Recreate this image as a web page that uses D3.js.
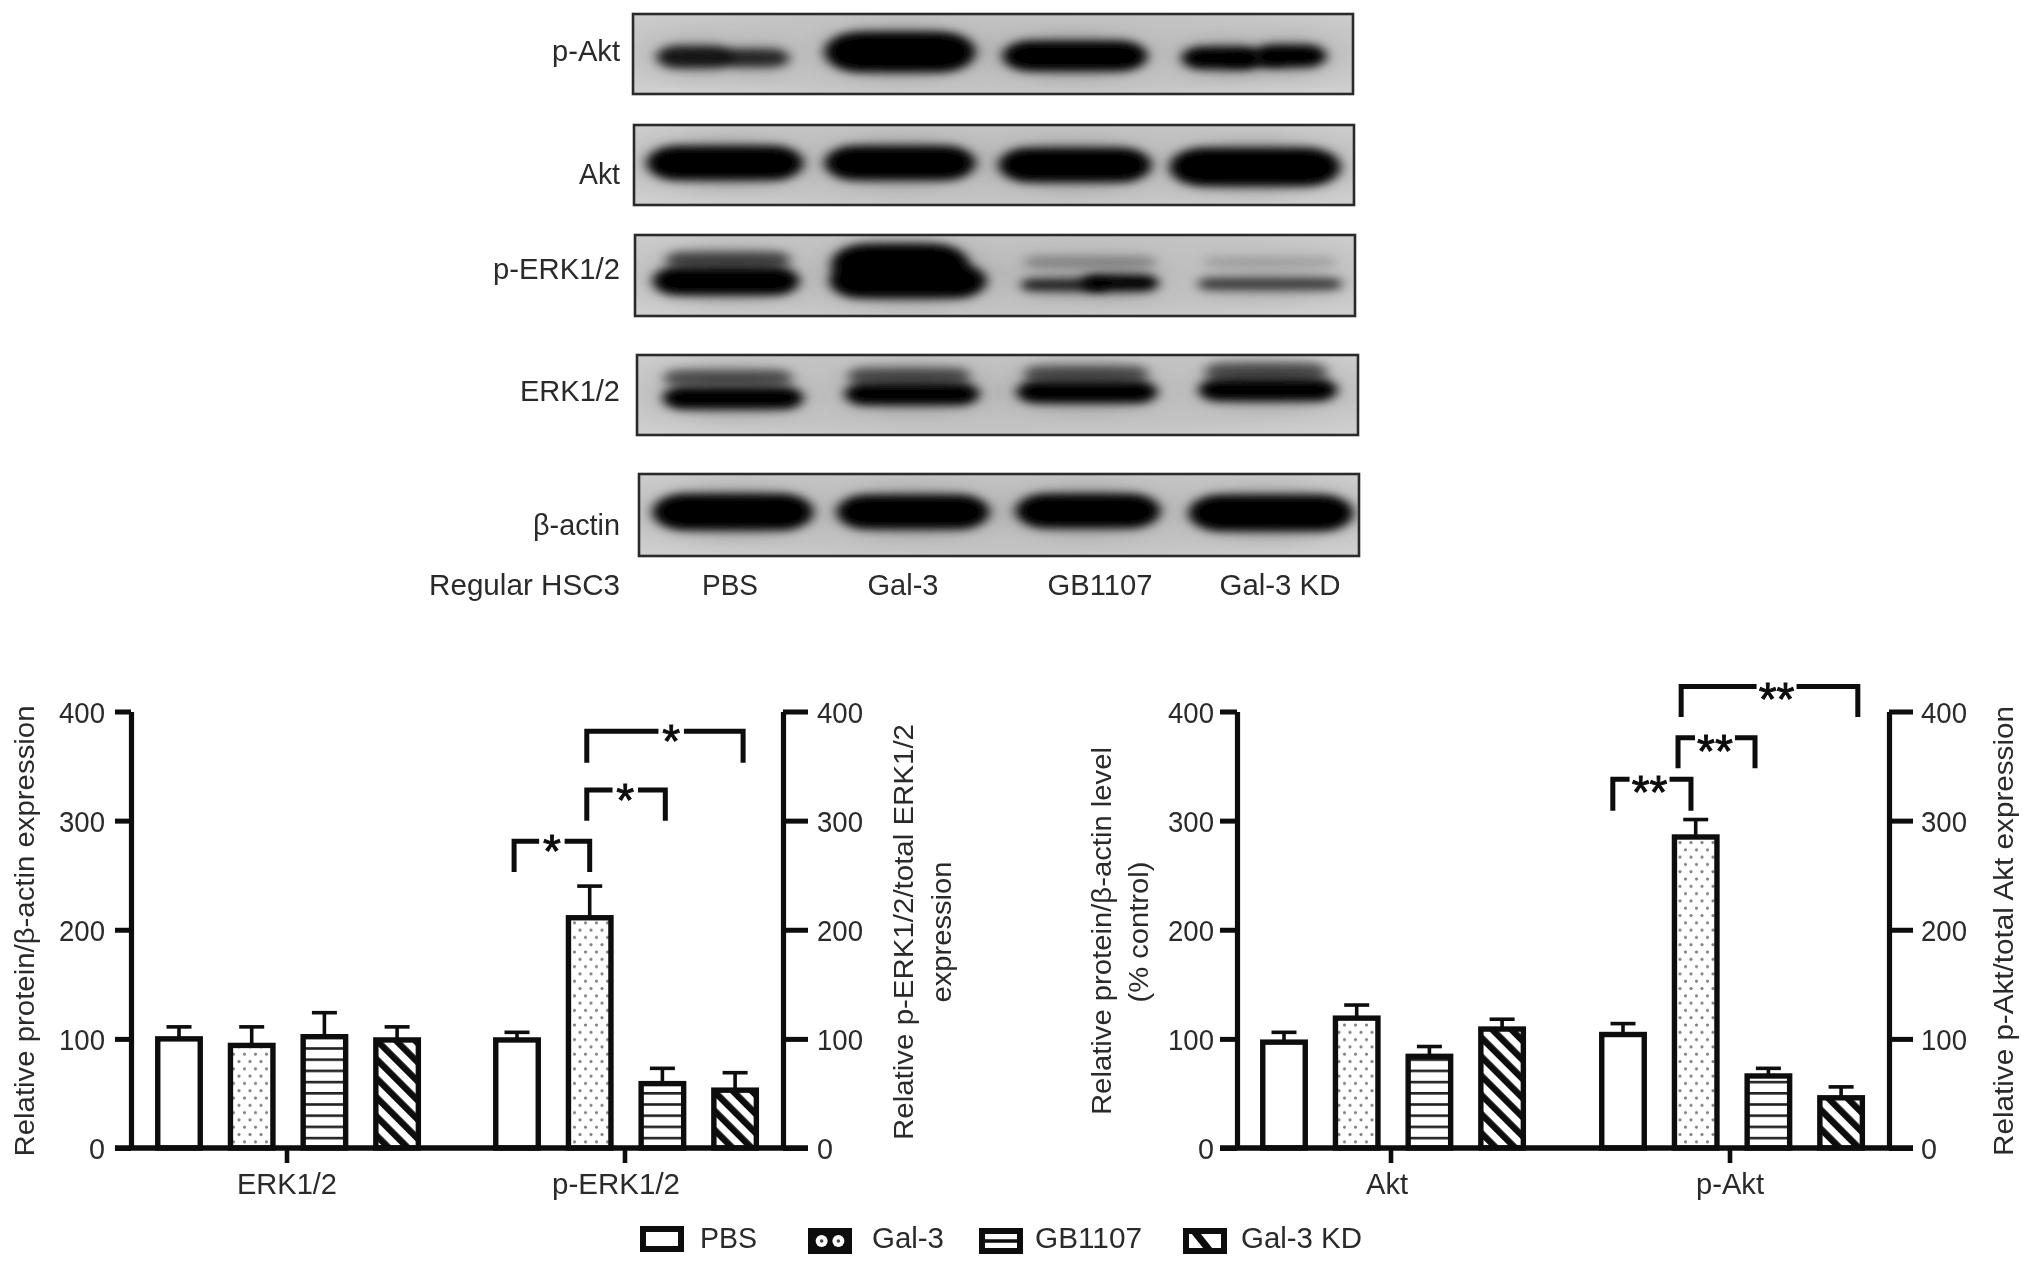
<!DOCTYPE html>
<html><head><meta charset="utf-8">
<script src="https://cdn.jsdelivr.net/npm/d3@7/dist/d3.min.js"></script>
<style>html,body{margin:0;padding:0;background:#fff}svg{display:block}text{font-family:"Liberation Sans",Arial,sans-serif;fill:#2a2a2a}</style>
</head><body><div id="c"></div>
<script>
const W=2032,H=1267;
const treatments=["PBS","Gal-3","GB1107","Gal-3 KD"];
const yTicks=[0,100,200,300,400];
// left chart
const erkCats=["ERK1/2","p-ERK1/2"];
const erkValues=[[100,94,102,99],[99,211,59,53]];
const erkTops=[[111,111,124,111],[106,240,73,69]];
// right chart
const aktCats=["Akt","p-Akt"];
const aktValues=[[97,119,84,109],[104,285,66,46]];
const aktTops=[[106,131,93,118],[114,301,73,56]];
// significance brackets: [from position, to position, top value, foot value, label, label fraction]
const erkBrackets=[[-0.04,1,281,253,"*",.5],[.96,2.04,328,300,"*",.49],[.96,3.11,382,353,"*",.54]];
const aktBrackets=[[-0.14,.935,338,309,"**",.47],[.757,1.816,376,348,"**",.48],[.8,3.23,423,395,"**",.54]];
// blot rows
const blotRows=["p-Akt","Akt","p-ERK1/2","ERK1/2","β-actin"];
const blotLabelLen=[68,41,127,100,87];
const laneLen=[56,71,105,121];

const svg=d3.select("#c").append("svg").attr("width",W).attr("height",H).attr("viewBox",`0 0 ${W} ${H}`);
const defs=svg.append("defs");
const ink="#0a0a0a";
defs.append("filter").attr("id","page").attr("filterUnits","userSpaceOnUse").attr("x",0).attr("y",0).attr("width",W).attr("height",H)
  .append("feGaussianBlur").attr("stdDeviation",0.6);
const root=svg.append("g").attr("filter","url(#page)");
root.append("rect").attr("width",W).attr("height",H).attr("fill","#fff");

// patterns
const pDots=defs.append("pattern").attr("id","p1").attr("patternUnits","userSpaceOnUse").attr("width",11).attr("height",14.6);
pDots.append("rect").attr("width",11).attr("height",14.6).attr("fill","#fff");
pDots.append("circle").attr("cx",2.5).attr("cy",3).attr("r",1.6).attr("fill","#808080");
pDots.append("circle").attr("cx",8).attr("cy",10.3).attr("r",1.6).attr("fill","#808080");
const pH=defs.append("pattern").attr("id","p2").attr("patternUnits","userSpaceOnUse").attr("width",10).attr("height",11.2);
pH.append("rect").attr("width",10).attr("height",11.2).attr("fill","#fff");
pH.append("rect").attr("y",5.6).attr("width",10).attr("height",2.6).attr("fill","#222");
const pD=defs.append("pattern").attr("id","p3").attr("patternUnits","userSpaceOnUse").attr("width",13.5).attr("height",13.5).attr("patternTransform","rotate(-45)");
pD.append("rect").attr("width",13.5).attr("height",13.5).attr("fill","#fff");
pD.append("rect").attr("width",6.5).attr("height",13.5).attr("fill","#0a0a0a");
const fills=["#fff","url(#p1)","url(#p2)","url(#p3)"];

defs.append("filter").attr("id","soft").attr("x","-30%").attr("y","-120%").attr("width","160%").attr("height","340%")
  .append("feGaussianBlur").attr("stdDeviation","6 4");
defs.append("filter").attr("id","halo").attr("x","-30%").attr("y","-120%").attr("width","160%").attr("height","340%")
  .append("feGaussianBlur").attr("stdDeviation","12 9");
const bg=defs.append("radialGradient").attr("id","gel").attr("cx","50%").attr("cy","45%").attr("r","70%");
bg.append("stop").attr("offset","0%").attr("stop-color","#b9b9b9");
bg.append("stop").attr("offset","70%").attr("stop-color","#c4c4c4");
bg.append("stop").attr("offset","100%").attr("stop-color","#cfcfcf");

function label(g,text,x,y,len,o={}){
  const t=g.append("text").attr("x",0).attr("y",0).attr("dy","0.36em")
   .attr("transform",`translate(${x},${y})`+(o.rot?` rotate(${o.rot})`:""))
   .attr("text-anchor",o.anchor||"middle").attr("font-size",o.size||29).text(text);
  if(len) t.attr("textLength",len).attr("lengthAdjust","spacingAndGlyphs");
  return t;
}

// ---- blots
const panels=[[633,14,720,80],[634,125,720,80],[635,235,720,81],[637,355,721,80],[639,474,720,82]];
const labelY=[51,174,269,391,525];
// band blobs per row: [cx, cy, rx, ry, opacity]
const bands=[
 [[695,57,38,11,.85],[755,58,34,9,.75],[900,52,75,20,1],[1075,56,72,15,1],[1222,58,40,11,1],[1290,56,36,11,1],[1255,60,30,5,.7]],
 [[725,163,78,17,1],[900,163,75,17,1],[1075,165,76,17,1],[1255,167,85,19,1]],
 [[728,260,62,8,.6],[726,281,73,14,1],[900,264,68,20,1],[908,281,78,17,1],[1090,262,66,6,.25],[1065,285,44,6,.8],[1120,283,38,8,1],[1270,262,66,5,.15],[1270,284,72,6,.65]],
 [[728,378,64,8,.55],[733,398,70,11,1],[909,376,61,8,.55],[912,394,67,11,1],[1086,374,62,8,.55],[1087,392,70,11,1],[1266,372,61,9,.55],[1268,390,69,11,1]],
 [[733,512,80,18,1],[913,512,76,17,1],[1088,511,72,17,1],[1271,513,82,18,1]]
];
const blot=root.append("g");
panels.forEach((p,i)=>{
  defs.append("clipPath").attr("id","clip"+i).append("rect").attr("x",p[0]).attr("y",p[1]).attr("width",p[2]).attr("height",p[3]);
  blot.append("rect").attr("x",p[0]).attr("y",p[1]).attr("width",p[2]).attr("height",p[3]).attr("fill","url(#gel)");
  const g=blot.append("g").attr("clip-path",`url(#clip${i})`);
  g.selectAll("ellipse.h").data(bands[i]).join("ellipse").attr("class","h")
    .attr("cx",d=>d[0]).attr("cy",d=>d[1]).attr("rx",d=>d[2]).attr("ry",d=>d[3]+3)
    .attr("fill","#555").attr("opacity",d=>d[4]*.5).attr("filter","url(#halo)");
  g.selectAll("rect.b").data(bands[i]).join("rect").attr("class","b")
    .attr("x",d=>d[0]-d[2]).attr("y",d=>d[1]-d[3]).attr("width",d=>2*d[2]).attr("height",d=>2*d[3])
    .attr("rx",d=>d[3]*1.8).attr("ry",d=>d[3])
    .attr("fill","#000").attr("opacity",d=>d[4]).attr("filter","url(#soft)");
  blot.append("rect").attr("x",p[0]).attr("y",p[1]).attr("width",p[2]).attr("height",p[3])
    .attr("fill","none").attr("stroke","#2b2b2b").attr("stroke-width",2.6);
  label(blot,blotRows[i],620,labelY[i],blotLabelLen[i],{anchor:"end"});
});
label(blot,"Regular HSC3",620,585,191,{anchor:"end"});
[730,903,1100,1280].forEach((x,i)=>label(blot,treatments[i],x,585,laneLen[i]));

// ---- bar charts
function chart(cfg){
  const g=root.append("g");
  const y=d3.scaleLinear().domain([0,400]).range([1148,711.5]);
  const step=cfg.step;
  const x0=d3.scaleOrdinal().domain(cfg.cats).range(cfg.groupX);
  const x1=d3.scaleLinear().domain([0,3]).range([0,3*step]);
  const bw=cfg.bw, sw=5.4;
  const rows=cfg.values.flatMap((vals,gi)=>vals.map((v,ti)=>({cat:cfg.cats[gi],ti,v,top:cfg.tops[gi][ti]})));
  const cx=d=>x0(d.cat)+x1(d.ti);
  // error bars
  g.selectAll("line.e").data(rows).join("line").attr("x1",cx).attr("x2",cx).attr("y1",d=>y(d.v)).attr("y2",d=>y(d.top)).attr("stroke",ink).attr("stroke-width",3.6);
  g.selectAll("line.c").data(rows).join("line").attr("x1",d=>cx(d)-12.5).attr("x2",d=>cx(d)+12.5).attr("y1",d=>y(d.top)).attr("y2",d=>y(d.top)).attr("stroke",ink).attr("stroke-width",3.6);
  // bars
  g.selectAll("rect.b").data(rows).join("rect")
    .attr("x",d=>cx(d)-bw/2).attr("width",bw).attr("y",d=>y(d.v)).attr("height",d=>y(0)-y(d.v))
    .attr("fill",d=>fills[d.ti]).attr("stroke",ink).attr("stroke-width",sw);
  // axes
  const styleAxis=a=>{a.select(".domain").attr("stroke",ink).attr("stroke-width",5.2);a.selectAll(".tick line").attr("stroke",ink).attr("stroke-width",5);a.selectAll("text").remove();};
  g.append("g").attr("transform",`translate(${cfg.left},0)`).call(d3.axisLeft(y).tickValues(yTicks).tickSize(cfg.tickL).tickSizeOuter(0)).call(styleAxis);
  g.append("g").attr("transform",`translate(${cfg.right},0)`).call(d3.axisRight(y).tickValues(yTicks).tickSize(cfg.tickR).tickSizeOuter(0)).call(styleAxis);
  yTicks.forEach(t=>{
    label(g,t,cfg.left-cfg.tickL-cfg.gapL,y(t)+1,t?46:16,{anchor:"end"});
    label(g,t,cfg.right+cfg.tickR+cfg.gapR,y(t)+1,t?46:16,{anchor:"start"});
  });
  // baseline and category ticks
  g.append("line").attr("x1",cfg.left-cfg.tickL).attr("x2",cfg.right+cfg.tickR).attr("y1",y(0)).attr("y2",y(0)).attr("stroke",ink).attr("stroke-width",5.6);
  cfg.cats.forEach((c,i)=>{
    g.append("line").attr("x1",cfg.catTick[i]).attr("x2",cfg.catTick[i]).attr("y1",y(0)).attr("y2",y(0)+15).attr("stroke",ink).attr("stroke-width",4.6);
    label(g,c,cfg.catX[i],1184,cfg.catLen[i]);
  });
  // brackets
  const sigCat=cfg.cats[1];
  const bx=d3.scaleLinear().domain([0,3]).range([x0(sigCat),x0(sigCat)+3*step]);
  cfg.brackets.forEach(b=>{
    const xa=bx(b[0]), xb=bx(b[1]), sx=xa+(xb-xa)*b[5];
    g.append("path").attr("d",d3.line()([[xa,y(b[3])],[xa,y(b[2])],[xb,y(b[2])],[xb,y(b[3])]]))
      .attr("fill","none").attr("stroke",ink).attr("stroke-width",5);
    const gap=b[4].length*14.5+11;
    g.append("rect").attr("x",sx-gap/2).attr("y",y(b[2])-6).attr("width",gap).attr("height",12).attr("fill","#fff");
    g.append("text").attr("x",sx).attr("y",y(b[2])+cfg.starDy).attr("text-anchor","middle")
      .attr("font-size",46).attr("stroke",ink).attr("stroke-width",.9).style("fill",ink).text(b[4]);
  });
  cfg.titles.forEach(t=>label(g,t[0],t[1],t[2],t[3],{rot:-90,size:27}));
}
chart({cats:erkCats,values:erkValues,tops:erkTops,brackets:erkBrackets,groupX:[179,517],step:72.7,bw:42.5,starDy:26,
  left:131,right:783,tickL:16,tickR:25,gapL:10,gapR:9,catTick:[287,625],catX:[287,616],catLen:[100,128],
  titles:[["Relative protein/β-actin expression",24,931,451],["Relative p-ERK1/2/total ERK1/2",903,932,416],["expression",941,932,141]]});
chart({cats:aktCats,values:aktValues,tops:aktTops,brackets:aktBrackets,groupX:[1284,1623],step:72.7,bw:42.5,starDy:29,
  left:1237,right:1889,tickL:17,tickR:24,gapL:6,gapR:8,catTick:[1391,1730],catX:[1387,1730],catLen:[42,68],
  titles:[["Relative protein/β-actin level",1101,931,368],["(% control)",1138,932,141],["Relative p-Akt/total Akt expression",2003,931,450]]});

// ---- legend
const legX=[643,811,982,1186], legY=[1229,1231,1231,1231], legT=[700,872,1035,1241], legL=[57,72,107,121];
const legW=38, legH=20;
const leg=root.append("g");
treatments.forEach((t,i)=>{
  const x=legX[i], y=legY[i], s=leg.append("g");
  s.append("rect").attr("x",x).attr("y",y).attr("width",legW).attr("height",legH).attr("fill",i==1?ink:"#fff");
  if(i==1){
    [legW*.28,legW*.72].forEach(dx=>{
      s.append("circle").attr("cx",x+dx).attr("cy",y+legH/2).attr("r",6).attr("fill","#fff");
      s.append("circle").attr("cx",x+dx).attr("cy",y+legH/2).attr("r",1.8).attr("fill","#444");
    });
  }
  if(i==2) s.append("line").attr("x1",x).attr("x2",x+legW).attr("y1",y+legH/2).attr("y2",y+legH/2).attr("stroke",ink).attr("stroke-width",3.4);
  if(i==3) s.append("line").attr("x1",x+8).attr("x2",x+24).attr("y1",y).attr("y2",y+legH).attr("stroke",ink).attr("stroke-width",7);
  s.append("rect").attr("x",x).attr("y",y).attr("width",legW).attr("height",legH).attr("fill","none").attr("stroke",ink).attr("stroke-width",6);
  label(leg,t,legT[i],1238,legL[i],{anchor:"start"});
});
</script></body></html>
